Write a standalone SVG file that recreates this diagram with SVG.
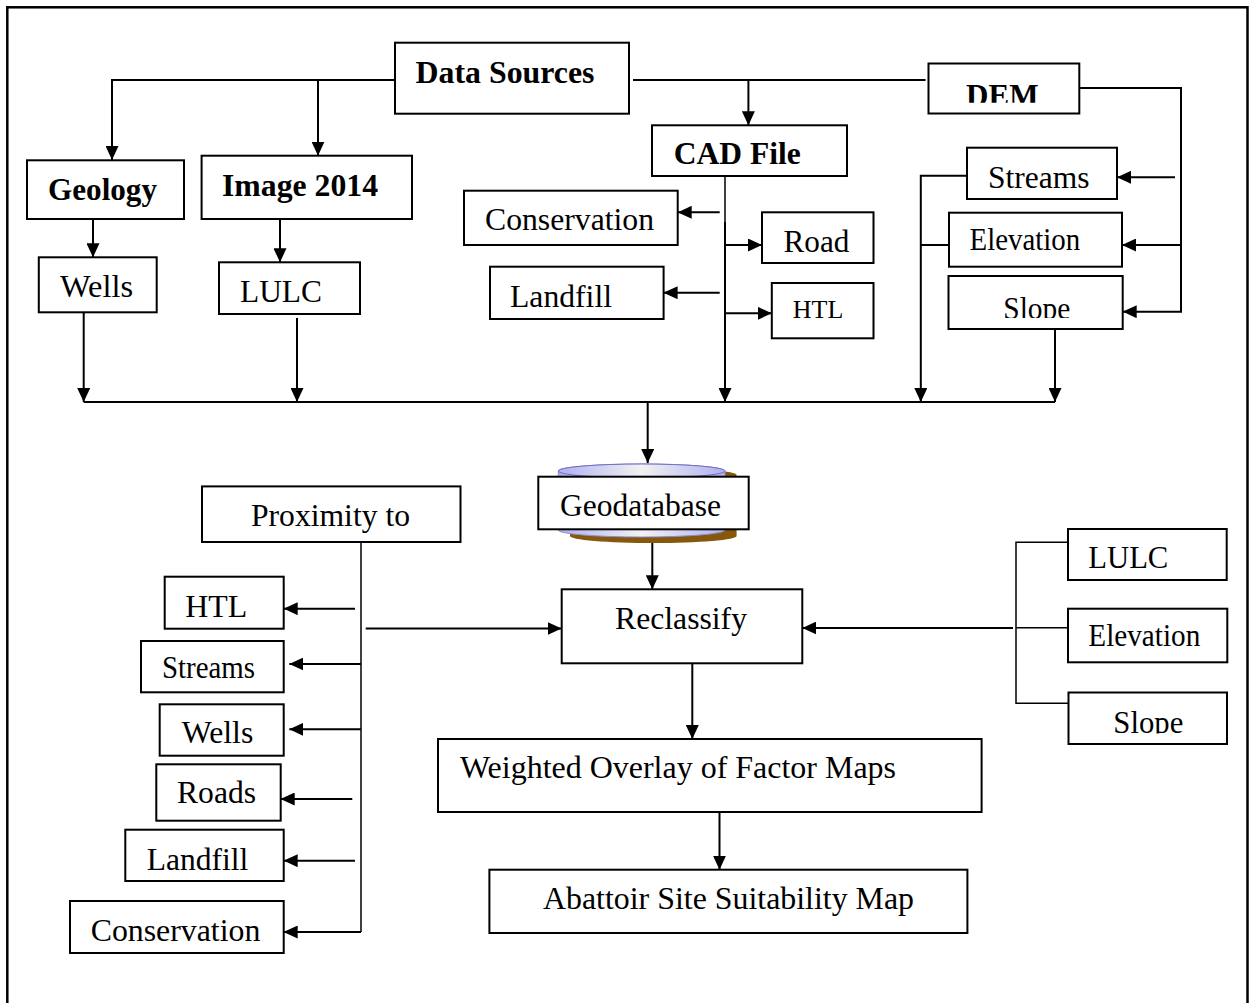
<svg xmlns="http://www.w3.org/2000/svg" width="1253" height="1003" viewBox="0 0 1253 1003">
<style>
.b{fill:#fff;stroke:#000;stroke-width:2}
.t{font-family:"Liberation Serif","Times New Roman",serif;font-size:32px;fill:#000}
.bd{font-weight:bold}
.c{fill:none;stroke:#000;stroke-width:2}
.h{fill:none;stroke:#000;stroke-width:1.5}
.a{marker-end:url(#ar)}
</style>
<defs>
<marker id="ar" markerUnits="userSpaceOnUse" markerWidth="14" markerHeight="13" refX="14" refY="6.5" orient="auto">
<path d="M0,0 L14,6.5 L0,13 z" fill="#000"/>
</marker>
<linearGradient id="cyl" x1="0" y1="0" x2="1" y2="0">
<stop offset="0" stop-color="#b0b0f0"/>
<stop offset="0.5" stop-color="#f2f2f2"/>
<stop offset="1" stop-color="#b0b0f0"/>
</linearGradient>
<clipPath id="clipDEM"><rect x="929" y="64" width="150" height="38.8"/></clipPath>
<clipPath id="clipSlope1"><rect x="949" y="277" width="173" height="41"/></clipPath>
<clipPath id="clipSlope2"><rect x="1069" y="693" width="157" height="40.5"/></clipPath>
</defs>
<rect x="7.3" y="7.3" width="1240.2" height="1010" fill="none" stroke="#000" stroke-width="2.5"/>

<g id="connectors">
<path class="c" d="M398,80 H112 V160" marker-end="url(#ar)"/>
<path class="c a" d="M318,80 V155.7"/>
<path class="c" d="M633,80 H925.6"/>
<path class="c a" d="M748.4,80 V125.3"/>
<path class="c a" d="M93,219 V257.3"/>
<path class="c a" d="M280,219 V262.3"/>
<path class="c a" d="M83.7,312.3 V402"/>
<path class="c a" d="M297,318 V402"/>
<path class="c" d="M83.7,402 H1055"/>
<path class="h" d="M725,176 V222"/>
<path class="c a" d="M725,222 V402"/>
<path class="c a" d="M719.7,212.3 H677.7"/>
<path class="c a" d="M719.7,292.7 H663.6"/>
<path class="c a" d="M725,245 H762"/>
<path class="c a" d="M725,313.3 H771.8"/>
<path class="c a" d="M1079.3,88 H1181 V311.7 H1122.7"/>
<path class="c a" d="M1175,177.3 H1117"/>
<path class="c a" d="M1180,245 H1122"/>
<path class="c a" d="M967,175.7 H920.8 V402"/>
<path class="c" d="M949,245 H920.8"/>
<path class="c a" d="M1055,329 V402"/>
<path class="c a" d="M647.7,402 V463"/>
<path class="c a" d="M652.3,529.3 V589.3"/>
<path class="h" d="M361,542 V932"/>
<path class="c a" d="M361,932 H283.7"/>
<path class="c a" d="M355,608.7 H283.7"/>
<path class="c a" d="M361,664 H289.3"/>
<path class="c a" d="M361,729.3 H289.3"/>
<path class="c a" d="M352.3,799 H280.7"/>
<path class="c a" d="M355,860.7 H283.7"/>
<path class="c a" d="M365.7,628.5 H561.7"/>
<path class="c a" d="M1013,628 H802.3"/>
<path class="h" d="M1068,542.3 H1016 V703.3 H1069"/>
<path class="h" d="M1016,627.7 H1068"/>
<path class="c a" d="M692.3,663.3 V739"/>
<path class="c a" d="M719.5,812 V869.7"/>
</g>

<g id="data-sources"><rect class="b" x="395" y="42.7" width="234" height="71"/><text class="t bd" x="415.5" y="83" textLength="179" lengthAdjust="spacingAndGlyphs">Data Sources</text></g>
<g id="geology"><rect class="b" x="27" y="160.3" width="157" height="58.7"/><text class="t bd" x="48" y="200" textLength="109" lengthAdjust="spacingAndGlyphs">Geology</text></g>
<g id="image-2014"><rect class="b" x="201.6" y="155.7" width="210.4" height="63.3"/><text class="t bd" x="222" y="196" textLength="156" lengthAdjust="spacingAndGlyphs">Image 2014</text></g>
<g id="wells-top"><rect class="b" x="38.8" y="257.3" width="117.9" height="55"/><text class="t" x="60" y="297.3" textLength="73" lengthAdjust="spacingAndGlyphs">Wells</text></g>
<g id="lulc-top"><rect class="b" x="219" y="262.3" width="141" height="51.7"/><text class="t" x="240" y="301.7" textLength="82" lengthAdjust="spacingAndGlyphs">LULC</text></g>
<g id="cad-file"><rect class="b" x="652" y="125.3" width="195" height="50.7"/><text class="t bd" x="673.7" y="164" textLength="127" lengthAdjust="spacingAndGlyphs">CAD File</text></g>
<g id="conservation-top"><rect class="b" x="464" y="190.7" width="213.7" height="54.3"/><text class="t" x="485" y="230" textLength="169" lengthAdjust="spacingAndGlyphs">Conservation</text></g>
<g id="landfill-top"><rect class="b" x="490" y="266.7" width="173.6" height="52.3"/><text class="t" x="510" y="306.7" textLength="102" lengthAdjust="spacingAndGlyphs">Landfill</text></g>
<g id="road"><rect class="b" x="762" y="212.3" width="111.5" height="50.7"/><text class="t" x="783.5" y="252.3" textLength="65.8" lengthAdjust="spacingAndGlyphs">Road</text></g>
<g id="htl-top"><rect class="b" x="771.8" y="283" width="101.7" height="55.3"/><text class="t" x="792.8" y="317.7" style="font-size:26px" textLength="50.5" lengthAdjust="spacingAndGlyphs">HTL</text></g>
<g id="dem"><rect class="b" x="928.5" y="63.5" width="150.8" height="50"/><text class="t bd" x="966" y="106" clip-path="url(#clipDEM)" textLength="72.5" lengthAdjust="spacingAndGlyphs">DEM</text></g>
<g id="streams-top"><rect class="b" x="967" y="147.7" width="150" height="51.3"/><text class="t" x="988" y="187.7" textLength="101.5" lengthAdjust="spacingAndGlyphs">Streams</text></g>
<g id="elevation-top"><rect class="b" x="949" y="212.7" width="173" height="54"/><text class="t" x="969.6" y="250" textLength="110.6" lengthAdjust="spacingAndGlyphs">Elevation</text></g>
<g id="slope-top"><rect class="b" x="948.5" y="276" width="174.2" height="53"/><text class="t" x="1003.3" y="318.5" clip-path="url(#clipSlope1)" textLength="67" lengthAdjust="spacingAndGlyphs">Slope</text></g>

<g id="geodatabase">
<path d="M570,475 V536 A83.3,7 0 0 0 736.6,536 V475 A83.3,7 0 0 0 570,475 z" fill="#86580c"/>
<path d="M558.3,471 V530 A83.3,7 0 0 0 725,530 V471 A83.3,7 0 0 0 558.3,471 z" fill="url(#cyl)" stroke="#8c8cd0" stroke-width="1"/>
<ellipse cx="641.7" cy="471" rx="83.3" ry="7" fill="url(#cyl)" stroke="#7070c0" stroke-width="1"/>
<rect class="b" x="538.3" y="476.7" width="210.4" height="52.6"/>
<text class="t" x="560" y="516" textLength="161" lengthAdjust="spacingAndGlyphs">Geodatabase</text>
</g>
<g id="proximity-to"><rect class="b" x="202" y="486.4" width="258.5" height="55.6"/><text class="t" x="251" y="526.1" textLength="159" lengthAdjust="spacingAndGlyphs">Proximity to</text></g>
<g id="reclassify"><rect class="b" x="561.7" y="589.3" width="240.6" height="74"/><text class="t" x="615" y="628.7" textLength="132" lengthAdjust="spacingAndGlyphs">Reclassify</text></g>
<g id="htl-left"><rect class="b" x="164.7" y="576.7" width="119" height="52"/><text class="t" x="185.3" y="617.3" textLength="62" lengthAdjust="spacingAndGlyphs">HTL</text></g>
<g id="streams-left"><rect class="b" x="141" y="641" width="142.7" height="51.3"/><text class="t" x="162" y="678.3" textLength="93" lengthAdjust="spacingAndGlyphs">Streams</text></g>
<g id="wells-left"><rect class="b" x="159.7" y="704.3" width="124" height="51.4"/><text class="t" x="181.7" y="743.3" textLength="71.6" lengthAdjust="spacingAndGlyphs">Wells</text></g>
<g id="roads-left"><rect class="b" x="156.3" y="764.3" width="124.4" height="56.4"/><text class="t" x="177" y="803.3" textLength="79" lengthAdjust="spacingAndGlyphs">Roads</text></g>
<g id="landfill-left"><rect class="b" x="125.3" y="829.7" width="158.4" height="51.3"/><text class="t" x="146.7" y="870" textLength="101.6" lengthAdjust="spacingAndGlyphs">Landfill</text></g>
<g id="conservation-left"><rect class="b" x="70" y="901" width="213.7" height="52"/><text class="t" x="90.7" y="941" textLength="169.6" lengthAdjust="spacingAndGlyphs">Conservation</text></g>
<g id="weighted-overlay"><rect class="b" x="438" y="739" width="543.6" height="73"/><text class="t" x="460" y="778.3" textLength="436" lengthAdjust="spacingAndGlyphs">Weighted Overlay of Factor Maps</text></g>
<g id="abattoir"><rect class="b" x="489.4" y="869.7" width="478" height="63.3"/><text class="t" x="543" y="909.3" textLength="371" lengthAdjust="spacingAndGlyphs">Abattoir Site Suitability Map</text></g>
<g id="lulc-right"><rect class="b" x="1068" y="529" width="158.7" height="51"/><text class="t" x="1088.3" y="567.7" textLength="80" lengthAdjust="spacingAndGlyphs">LULC</text></g>
<g id="elevation-right"><rect class="b" x="1068" y="608.7" width="159.3" height="53.6"/><text class="t" x="1088.3" y="645.7" textLength="112" lengthAdjust="spacingAndGlyphs">Elevation</text></g>
<g id="slope-right"><rect class="b" x="1068.5" y="692.5" width="158.5" height="51.5"/><text class="t" x="1113.3" y="732.5" clip-path="url(#clipSlope2)" textLength="70" lengthAdjust="spacingAndGlyphs">Slope</text></g>
</svg>
